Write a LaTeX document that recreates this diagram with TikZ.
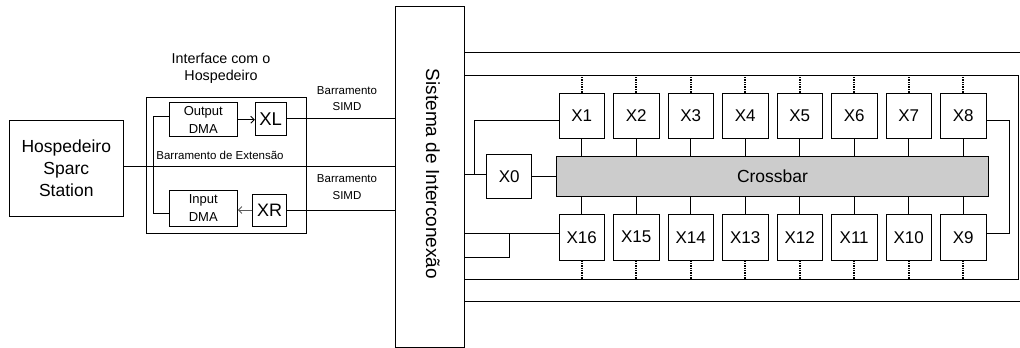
\documentclass[tikz,border=0pt]{standalone}
\usepackage{fontspec}
\setmainfont{Liberation Sans}
\usetikzlibrary{arrows.meta,calc}
\definecolor{crossfill}{RGB}{204,204,204}
\definecolor{linegray}{RGB}{90,90,90}
\begin{document}
\begin{tikzpicture}[x=1pt,y=-1pt,line width=0.9pt,
  box/.style={draw,rectangle,inner sep=0pt,align=center},
  xbox/.style={box,minimum width=45.5pt,minimum height=45.5pt,font=\fontsize{17}{20}\selectfont},
  lbl/.style={inner sep=0pt,align=center},
  dots/.style={dash pattern=on 1.3pt off 1.1pt,line width=1.6pt},
  tip/.style={-{Straight Barb[length=3.5pt,width=7pt]}}]
\useasboundingbox (0,0) rectangle (1020,348);

% left side
\node[box,minimum width=114pt,minimum height=96.7pt,font=\fontsize{17.5}{21.7}\selectfont] (Hosp) at (66.3,168.3) {Hospedeiro\\Sparc\\Station};
\node[box,minimum width=160pt,minimum height=135.6pt] (Iface) at (226,165.5) {};
\node[lbl,font=\fontsize{14.3}{16.7}\selectfont] (IfaceT) at (221,68.5) {Interface com o\\Hospedeiro};
\node[box,minimum width=68pt,minimum height=34pt,font=\fontsize{13}{17.6}\selectfont] (ODMA) at (203.3,119.7) {Output\\DMA};
\node[box,minimum width=30.7pt,minimum height=32.3pt,font=\fontsize{18.5}{20}\selectfont] (XL) at (270.7,118.8) {XL};
\node[box,minimum width=68pt,minimum height=36pt,font=\fontsize{13}{17.6}\selectfont] (IDMA) at (203.3,208) {Input\\DMA};
\node[box,minimum width=34pt,minimum height=32pt,font=\fontsize{18}{20}\selectfont] (XR) at (269.7,210) {XR};
\node[lbl,font=\fontsize{11.5}{16.7}\selectfont] (SIMD1) at (347,98.5) {Barramento\\SIMD};
\node[lbl,font=\fontsize{11.5}{16.7}\selectfont] (SIMD2) at (347,187) {Barramento\\SIMD};
\node[lbl,font=\fontsize{11.5}{14}\selectfont] (ExtT) at (220,155) {Barramento de Extensão};

% interconnection system
\node[box,minimum width=68.3pt,minimum height=341.3pt] (Sys) at (429.85,176.65) {};
\node[lbl,rotate=-90,font=\fontsize{19}{22}\selectfont] (SysT) at (433,174) {Sistema de Interconexão};

% frame and outer lines
\node[box,minimum width=554.3pt,minimum height=204pt] (frame) at (741.15,177) {};
\coordinate (t1) at (1020,52.3);
\coordinate (t2) at (1020,301.7);
\draw (t1 -| Sys.east) -- (t1);
\draw (t2 -| Sys.east) -- (t2);

% crossbar and X nodes
\node[box,fill=crossfill,minimum width=432.4pt,minimum height=40pt,font=\fontsize{17.5}{20}\selectfont] (cross) at (772.5,176.7) {Crossbar};
\node[xbox,minimum width=45pt,minimum height=44pt] (X0) at (509.2,176.5) {X0};
\foreach \k in {1,...,8} {
  \pgfmathsetmacro\cx{581.7+54.5*(\k-1)}
  \pgfmathtruncatemacro\lo{17-\k}
  \node[xbox] (X\k) at (\cx,115.7) {X\k};
  \node[xbox] (X\lo) at (\cx,237.2) {X\lo};
  \draw[dots] (X\k.north) -- (X\k.north |- frame.north);
  \draw[dots] (X\lo.south) -- (X\lo.south |- frame.south);
  \draw (X\k.south) -- (X\k.south |- cross.north);
  \draw (X\lo.north) -- (X\lo.north |- cross.south);
}
\draw (X0.east) -- (X0.east -| cross.west);

% ring connections
\coordinate (a1) at ([yshift=-4.3pt]X1.west);
\coordinate (j1) at (474,174.5);
\draw (a1) -| (j1);
\draw (j1 -| Sys.east) -- (j1 -| X0.west);
\coordinate (b1) at ([yshift=-4.3pt]X8.east);
\coordinate (b2) at ([yshift=3.9pt]X9.east);
\draw (b1) -- ++(22.7,0) |- (b2);
\coordinate (c1) at ([yshift=3.9pt]X16.west);
\coordinate (c2) at (509.3,257.3);
\draw (c1) -- (c1 -| Sys.east);
\draw (c2 |- c1) -- (c2) -- (c2 -| Sys.east);

% host interface connections
\draw[tip] (ODMA.east) -- (ODMA.east -| XL.west);
\draw (XL.east) -- (XL.east -| Sys.west);
\draw[tip,draw=linegray] (XR.west) -- (XR.west -| IDMA.east);
\draw (XR.east) -- (XR.east -| Sys.west);
\coordinate (e1) at ([yshift=2.3pt]Hosp.east);
\draw (e1) -- (e1 -| Sys.west);
\coordinate (d1) at ([yshift=3.7pt]ODMA.west);
\coordinate (d2) at ([yshift=-5.3pt]IDMA.west);
\draw (d1) -- ++(-15,0) |- (d2);
\end{tikzpicture}
\end{document}
